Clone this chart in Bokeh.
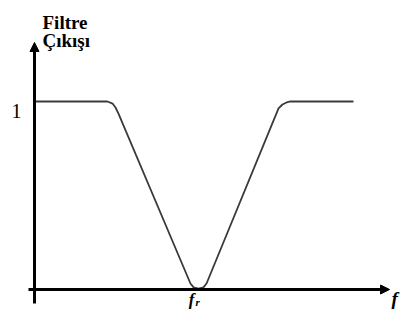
from bokeh.plotting import figure
from bokeh.models import Range1d, Arrow, NormalHead
from bokeh.core.properties import value
from bokeh.embed import file_html
from bokeh.resources import INLINE

# Notch filter response: normalized frequency (f / f_r) vs. filter output
freq = [0.006, 0.445, 0.476, 0.494, 0.512, 0.951, 0.970, 1.0, 1.030, 1.049,
        1.488, 1.512, 1.537, 1.561, 1.945]
gain = [1.0, 1.0, 0.989, 0.968, 0.936, 0.032, 0.011, 0.005, 0.011, 0.032,
        0.963, 0.984, 0.995, 1.0, 1.0]

y_title = ["Filtre", "Çıkışı"]
y_tick_label = "1"
y_tick_value = 1.0
fr_value = 1.0
x_label = "f"

p = figure(width=403, height=309, output_backend="svg", toolbar_location=None,
           x_range=Range1d(-0.2073, 2.25), y_range=Range1d(-0.1064, 1.5372),
           x_axis_type=None, y_axis_type=None, min_border=0)
p.grid.visible = False
p.outline_line_color = None
p.background_fill_color = "white"

# axes with arrow heads
p.add_layout(Arrow(end=NormalHead(size=9, fill_color="black", line_color="black"),
                   x_start=0, y_start=-0.0745, x_end=0, y_end=1.314,
                   line_width=3, line_color="black"))
p.add_layout(Arrow(end=NormalHead(size=9, fill_color="black", line_color="black"),
                   x_start=-0.0366, y_start=0, x_end=2.165, y_end=0,
                   line_width=3, line_color="black"))

# response curve
p.line(freq, gain, line_color="#3a3a3a", line_width=1.8)

serif = value("Liberation Serif")

p.text(x=[0.0488, 0.0488], y=[1.420, 1.3245], text=y_title, text_font=serif,
       text_font_size="19px", text_font_style="bold", text_color="black",
       text_align="left", text_baseline="alphabetic")

p.text(x=[-0.079], y=[0.952], text=[y_tick_label], text_font=serif,
       text_font_size="20px", text_color="black",
       text_align="right", text_baseline="alphabetic")

p.text(x=[fr_value - 0.06], y=[-0.0532], text=["f"], text_font=serif,
       text_font_size="17px", text_font_style="bold italic", text_color="black",
       text_align="left", text_baseline="alphabetic")
p.text(x=[fr_value - 0.018], y=[-0.0691], text=["r"], text_font=serif,
       text_font_size="11px", text_font_style="bold italic", text_color="black",
       text_align="left", text_baseline="alphabetic")

p.text(x=[2.177], y=[-0.0479], text=[x_label], text_font=serif,
       text_font_size="19px", text_font_style="bold italic", text_color="black",
       text_align="left", text_baseline="alphabetic")

open("out.html", "w").write(file_html(p, INLINE))
